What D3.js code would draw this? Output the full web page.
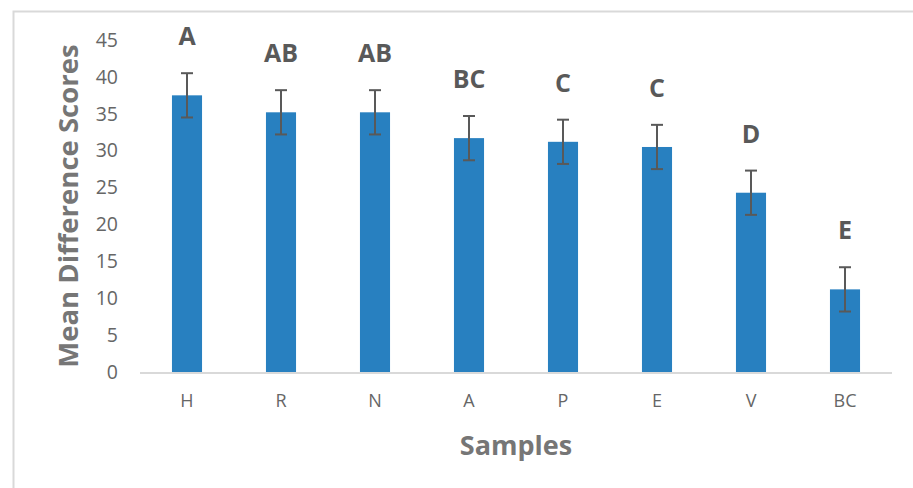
<!DOCTYPE html>
<html>
<head>
<meta charset="utf-8">
<script src="https://cdn.jsdelivr.net/npm/d3@7"></script>
<style>
  body { margin: 0; background: #fff; }
  text { font-family: "Open Sans", "Noto Sans", sans-serif; }
</style>
</head>
<body>
<div id="chart"></div>
<script>
var samples = ["H", "R", "N", "A", "P", "E", "V", "BC"];
var means = [37.5, 35.2, 35.2, 31.7, 31.2, 30.5, 24.3, 11.2];
var errors = [3, 3, 3, 3, 3, 3, 3, 3];
var groups = ["A", "AB", "AB", "BC", "C", "C", "D", "E"];
var yTicks = [0, 5, 10, 15, 20, 25, 30, 35, 40, 45];

var WIDTH = 913, HEIGHT = 488;
var margin = {left: 140, right: 21, top: 40, bottom: 116};

var svg = d3.select("#chart").append("svg")
    .attr("width", WIDTH)
    .attr("height", HEIGHT);

// chart frame (only top and left visible, rest runs off the page)
svg.append("rect")
    .attr("x", 13.5).attr("y", 11.5)
    .attr("width", WIDTH).attr("height", HEIGHT)
    .attr("fill", "none")
    .attr("stroke", "#d9d9d9")
    .attr("stroke-width", 2);

var x = d3.scaleBand()
    .domain(samples)
    .range([margin.left, WIDTH - margin.right])
    .paddingInner(0.68)
    .paddingOuter(0.34);

var y = d3.scaleLinear()
    .domain([0, 45])
    .range([HEIGHT - margin.bottom, margin.top]);

// y axis labels
var yAxis = svg.append("g")
    .attr("transform", "translate(" + (margin.left - 22) + ",0)")
    .call(d3.axisLeft(y).tickValues(yTicks).tickSize(0).tickPadding(0));
yAxis.select(".domain").remove();
yAxis.selectAll("text")
    .attr("fill", "#666")
    .style("font-size", "19.5px");

// bars
svg.append("g").selectAll("rect")
    .data(samples)
    .enter().append("rect")
    .attr("x", function (d) { return x(d); })
    .attr("y", function (d, i) { return y(means[i]); })
    .attr("width", x.bandwidth())
    .attr("height", function (d, i) { return y(0) - y(means[i]); })
    .attr("fill", "#2880c0");

// baseline
svg.append("line")
    .attr("x1", margin.left).attr("x2", WIDTH - margin.right)
    .attr("y1", y(0) + 1).attr("y2", y(0) + 1)
    .attr("stroke", "#d9d9d9")
    .attr("stroke-width", 2);

// error bars
var err = svg.append("g").attr("stroke", "#595959").attr("stroke-width", 2);
samples.forEach(function (d, i) {
    var cx = x(d) + x.bandwidth() / 2;
    var top = y(means[i] + errors[i]), bot = y(means[i] - errors[i]);
    err.append("line").attr("x1", cx).attr("x2", cx).attr("y1", top).attr("y2", bot);
    err.append("line").attr("x1", cx - 6).attr("x2", cx + 6).attr("y1", top).attr("y2", top);
    err.append("line").attr("x1", cx - 6).attr("x2", cx + 6).attr("y1", bot).attr("y2", bot);
});

// significance letters
svg.append("g").selectAll("text")
    .data(samples)
    .enter().append("text")
    .attr("x", function (d) { return x(d) + x.bandwidth() / 2; })
    .attr("y", function (d, i) { return y(means[i] + errors[i]) - 28; })
    .attr("text-anchor", "middle")
    .attr("fill", "#595959")
    .style("font-size", "25px")
    .style("font-weight", "bold")
    .text(function (d, i) { return groups[i]; });

// x axis labels
var xAxis = svg.append("g")
    .attr("transform", "translate(0," + (y(0) + 22) + ")")
    .call(d3.axisBottom(x).tickSize(0).tickPadding(0));
xAxis.select(".domain").remove();
xAxis.selectAll("text")
    .attr("fill", "#666")
    .style("font-size", "18px");

// axis titles
svg.append("text")
    .attr("x", (margin.left + WIDTH - margin.right) / 2)
    .attr("y", 455)
    .attr("text-anchor", "middle")
    .attr("fill", "#767676")
    .style("font-size", "27px")
    .style("font-weight", "bold")
    .text("Samples");

svg.append("text")
    .attr("transform", "translate(78," + (y(22.5)) + ")rotate(-90)")
    .attr("text-anchor", "middle")
    .attr("fill", "#767676")
    .style("font-size", "27.5px")
    .style("font-weight", "bold")
    .text("Mean Difference Scores");
</script>
</body>
</html>
